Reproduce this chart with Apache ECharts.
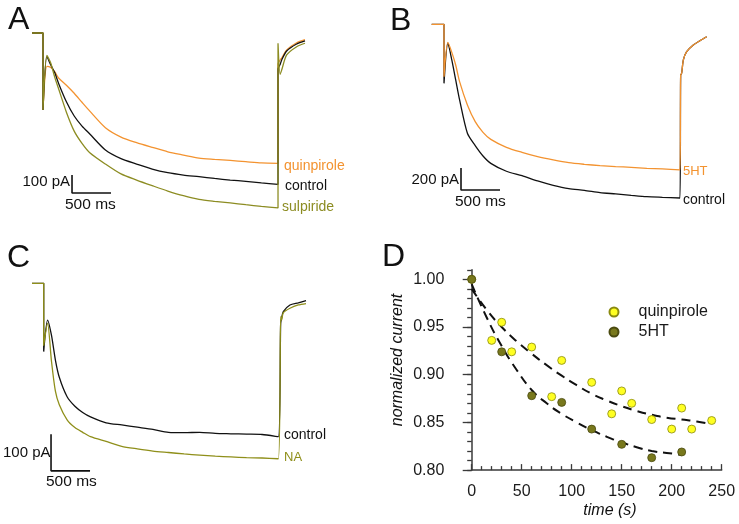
<!DOCTYPE html>
<html><head><meta charset="utf-8">
<script src="https://cdn.jsdelivr.net/npm/echarts@6/dist/echarts.min.js"></script>
<style>html,body{margin:0;padding:0;background:#fff}#c{width:739px;height:524px}</style>
</head><body><div id="c"></div>
<script>
// ---- Panel A (time in ms, current in pA) ----
const tA = [-140,0,0,50,100,150,200,300,400,500,600,800,1000,1200,1400,1600,1800,2000,2200,2400,2600,2800,3013,3013,3040,3060,3124,3252,3359];
const aQuinpirole = [0,0,-428,-185,-192,-215,-250,-290,-335,-385,-434,-526,-578,-609,-635,-660,-678,-695,-702,-708,-715,-722,-724,-170,-150,-139,-94,-54,-37];
const aControl    = [0,0,-428,-131,-178,-220,-280,-382,-461,-517,-561,-650,-698,-728,-756,-776,-789,-798,-808,-817,-824,-833,-841,-200,-175,-150,-100,-61,-44];
const aSulpiride  = [0,0,-428,-125,-168,-245,-310,-440,-545,-613,-665,-728,-783,-817,-848,-878,-904,-924,-935,-944,-954,-963,-972,-57,-230,-206,-122,-76,-57];
const aScaleT = [372,372,872];
const aScaleI = [-789,-889,-889];
// ---- Panel B ----
const tB = [-158,0,0,50,100,150,200,300,400,500,600,800,1000,1200,1400,1600,1800,2000,2200,2400,2600,2800,3025,3034,3047,3068,3111,3196,3282,3368];
const b5HT     = [0,0,-476,-165,-255,-370,-521,-733,-885,-982,-1046,-1118,-1164,-1203,-1233,-1258,-1273,-1285,-1294,-1300,-1309,-1315,-1324,-461,-445,-325,-249,-188,-149,-113];
const bControl = [0,0,-537,-170,-324,-506,-688,-991,-1103,-1197,-1264,-1336,-1376,-1424,-1464,-1494,-1509,-1530,-1542,-1555,-1567,-1573,-1579,-461,-445,-325,-249,-188,-149,-113];
const bScaleT = [218,218,718];
const bScaleI = [-1306,-1506,-1506];
// ---- Panel C ----
const tC = [-150,0,0,50,100,150,200,300,400,500,600,800,1000,1200,1400,1600,1800,2000,2200,2400,2600,2800,3008,3038,3050,3072,3157,3264,3363];
const cControl = [0,0,-186,-100,-142,-209,-256,-309,-335,-352,-364,-380,-386,-392,-398,-406,-407,-406,-409,-410,-411,-412,-418,-110,-95,-77,-59,-53,-47];
const cNA      = [0,0,-170,-109,-213,-294,-331,-372,-393,-406,-418,-431,-444,-451,-457,-461,-465,-468,-471,-473,-475,-476,-478,-91,-100,-80,-68,-59,-55];
const cScaleT = [94,94,594];
const cScaleI = [-411,-511,-511];
// ---- Panel D ----
const dQuinTime = [0,20,30,40,60,80,90,120,140,150,160,180,200,210,220,240];
const dQuinVal  = [1.000,0.936,0.955,0.924,0.929,0.877,0.915,0.892,0.859,0.883,0.870,0.853,0.843,0.865,0.843,0.852];
const d5HTTime  = [0,30,60,90,120,150,180,210];
const d5HTVal   = [1.000,0.924,0.878,0.871,0.843,0.827,0.813,0.819];
const fitQuinTime = [0,15,30,45,60,75,90,105,120,135,150,165,180,195,210,225,235];
const fitQuinVal  = [0.990,0.968,0.950,0.935,0.922,0.910,0.899,0.889,0.880,0.873,0.867,0.862,0.858,0.855,0.853,0.851,0.849];
const fit5HTTime  = [0,15,30,45,60,75,90,105,120,135,150,165,180,195,210];
const fit5HTVal   = [0.995,0.960,0.930,0.905,0.884,0.870,0.859,0.850,0.842,0.835,0.829,0.824,0.820,0.818,0.816];
const dXTickValues = [0,50,100,150,200,250];

const ORANGE = '#F39330', OLIVE = '#8C8C22', OLIVE2 = '#8F8F1A', BLACK = '#111111';
const FONT = '"Liberation Sans", Arial, sans-serif';
const zip = (t, v) => t.map((x, i) => [x, v[i]]);

function hiddenAxes(idx, xmin, xmax, ymin, ymax) {
  return {
    x: {type:'value', gridIndex:idx, min:xmin, max:xmax, show:false},
    y: {type:'value', gridIndex:idx, min:ymin, max:ymax, show:false}
  };
}
const axA = hiddenAxes(0, -300, 4000, -1100, 100);
const axB = hiddenAxes(1, -300, 3600, -1800, 100);
const axC = hiddenAxes(2, -300, 4000, -600, 50);

function trace(idx, t, v, color, w, smooth) {
  return {type:'line', xAxisIndex:idx, yAxisIndex:idx, data:zip(t, v), showSymbol:false,
    smooth:smooth || false,
    lineStyle:{color:color, width:w || 1.3}, silent:true, animation:false};
}

function txt(x, y, text, opts) {
  opts = opts || {};
  return {type:'text', x:x, y:y, silent:true, style:{text:text,
    font:(opts.style||'') + ' ' + (opts.size||14) + 'px ' + FONT,
    fill:opts.color||'#111', textAlign:opts.align||'left', textVerticalAlign:'middle'},
    rotation:opts.rot||0};
}

const axisColor = '#3a3a3a';
const SM = 0.25;
const option = {
  animation:false,
  grid:[
    {left:19.6, top:15, width:335.4, height:216},
    {left:420.6, top:13.3, width:304.2, height:209},
    {left:20.3, top:265, width:335.4, height:238.5},
    {left:471.7, top:269.8, width:250, height:200.3},
    {left:471.7, top:279.3, width:250, height:190.8}
  ],
  xAxis:[axA.x, axB.x, axC.x,
    {type:'value', gridIndex:3, min:0, max:250, interval:50,
      axisLine:{lineStyle:{color:axisColor, width:1.5}},
      axisTick:{inside:true, length:6, lineStyle:{color:axisColor, width:1.3}},
      minorTick:{show:true, splitNumber:5, length:4, lineStyle:{color:axisColor, width:1.3}},
      splitLine:{show:false},
      axisLabel:{margin:13, fontSize:16, fontFamily:FONT, color:'#1a1a1a',
        formatter:v => dXTickValues.indexOf(v) >= 0 ? String(v) : ''}},
    {type:'value', gridIndex:4, min:0, max:250, show:false}
  ],
  yAxis:[axA.y, axB.y, axC.y,
    {type:'value', gridIndex:3, min:0.80, max:1.01, interval:0.01, offset:12.4,
      axisLine:{show:true, lineStyle:{color:axisColor, width:1.5}},
      axisTick:{show:true, length:4.5, lineStyle:{color:axisColor, width:1.3}},
      axisLabel:{show:false}, splitLine:{show:false}},
    {type:'value', gridIndex:4, min:0.80, max:1.00, interval:0.05, offset:12.4,
      axisLine:{show:false},
      axisTick:{show:true, length:9, lineStyle:{color:axisColor, width:1.3}},
      axisLabel:{margin:15, fontSize:16, fontFamily:FONT, color:'#1a1a1a', formatter:v => v.toFixed(2)},
      splitLine:{show:false}}
  ],
  legend:{orient:'vertical', left:608.5, top:304, itemWidth:9, itemHeight:9, itemGap:4,
    padding:0, icon:'circle',
    textStyle:{fontSize:16, fontFamily:FONT, color:'#1a1a1a', padding:[0,0,0,15]},
    data:['quinpirole','5HT']},
  series:[
    trace(0, tA, aQuinpirole, ORANGE, 1.3, SM),
    trace(0, tA, aControl, BLACK, 1.3, SM),
    trace(0, tA, aSulpiride, OLIVE, 1.3, SM),
    trace(0, aScaleT, aScaleI, BLACK, 1.6),
    trace(1, tB, bControl, BLACK, 1.3, SM),
    trace(1, tB, b5HT, ORANGE, 1.3, SM),
    trace(1, bScaleT, bScaleI, BLACK, 1.6),
    trace(2, tC, cControl, BLACK, 1.3, SM),
    trace(2, tC, cNA, OLIVE2, 1.3, SM),
    trace(2, cScaleT, cScaleI, BLACK, 1.6),
    {type:'line', xAxisIndex:3, yAxisIndex:3, data:zip(fitQuinTime, fitQuinVal), showSymbol:false, smooth:true,
      lineStyle:{color:'#111', width:2, type:[9,6]}, z:2, silent:true},
    {type:'line', xAxisIndex:3, yAxisIndex:3, data:zip(fit5HTTime, fit5HTVal), showSymbol:false, smooth:true,
      lineStyle:{color:'#111', width:2, type:[9,6]}, z:2, silent:true},
    {name:'quinpirole', type:'scatter', xAxisIndex:3, yAxisIndex:3, data:zip(dQuinTime, dQuinVal), symbolSize:8, z:3,
      itemStyle:{color:'#FFFF22', borderColor:'#8a8a10', borderWidth:0.8, opacity:1}},
    {name:'5HT', type:'scatter', xAxisIndex:3, yAxisIndex:3, data:zip(d5HTTime, d5HTVal), symbolSize:8, z:4,
      itemStyle:{color:'#78781C', borderColor:'#4a4a10', borderWidth:0.8, opacity:1}}
  ],
  graphic:[
    txt(8, 20, 'A', {size:32}),
    txt(390, 21, 'B', {size:32}),
    txt(7, 258, 'C', {size:32}),
    txt(382, 257, 'D', {size:32}),
    txt(284, 166, 'quinpirole', {color:ORANGE}),
    txt(285, 186, 'control'),
    txt(282, 207, 'sulpiride', {color:OLIVE}),
    txt(70, 182, '100 pA', {size:15, align:'right'}),
    txt(65, 205, '500 ms', {size:15.5}),
    txt(683, 171, '5HT', {color:ORANGE, size:13}),
    txt(683, 200, 'control'),
    txt(459, 180, '200 pA', {size:15, align:'right'}),
    txt(455, 202, '500 ms', {size:15.5}),
    txt(284, 435, 'control'),
    txt(284, 457, 'NA', {color:OLIVE2, size:13}),
    txt(3, 453, '100 pA', {size:15}),
    txt(46, 482, '500 ms', {size:15.5}),
    txt(397.5, 360, 'normalized current', {style:'italic', size:16, align:'center', rot:Math.PI/2}),
    txt(610, 511, 'time (s)', {style:'italic', size:16, align:'center'})
  ]
};
const chart = echarts.init(document.getElementById('c'), null, {renderer:'canvas'});
chart.setOption(option);
</script></body></html>
